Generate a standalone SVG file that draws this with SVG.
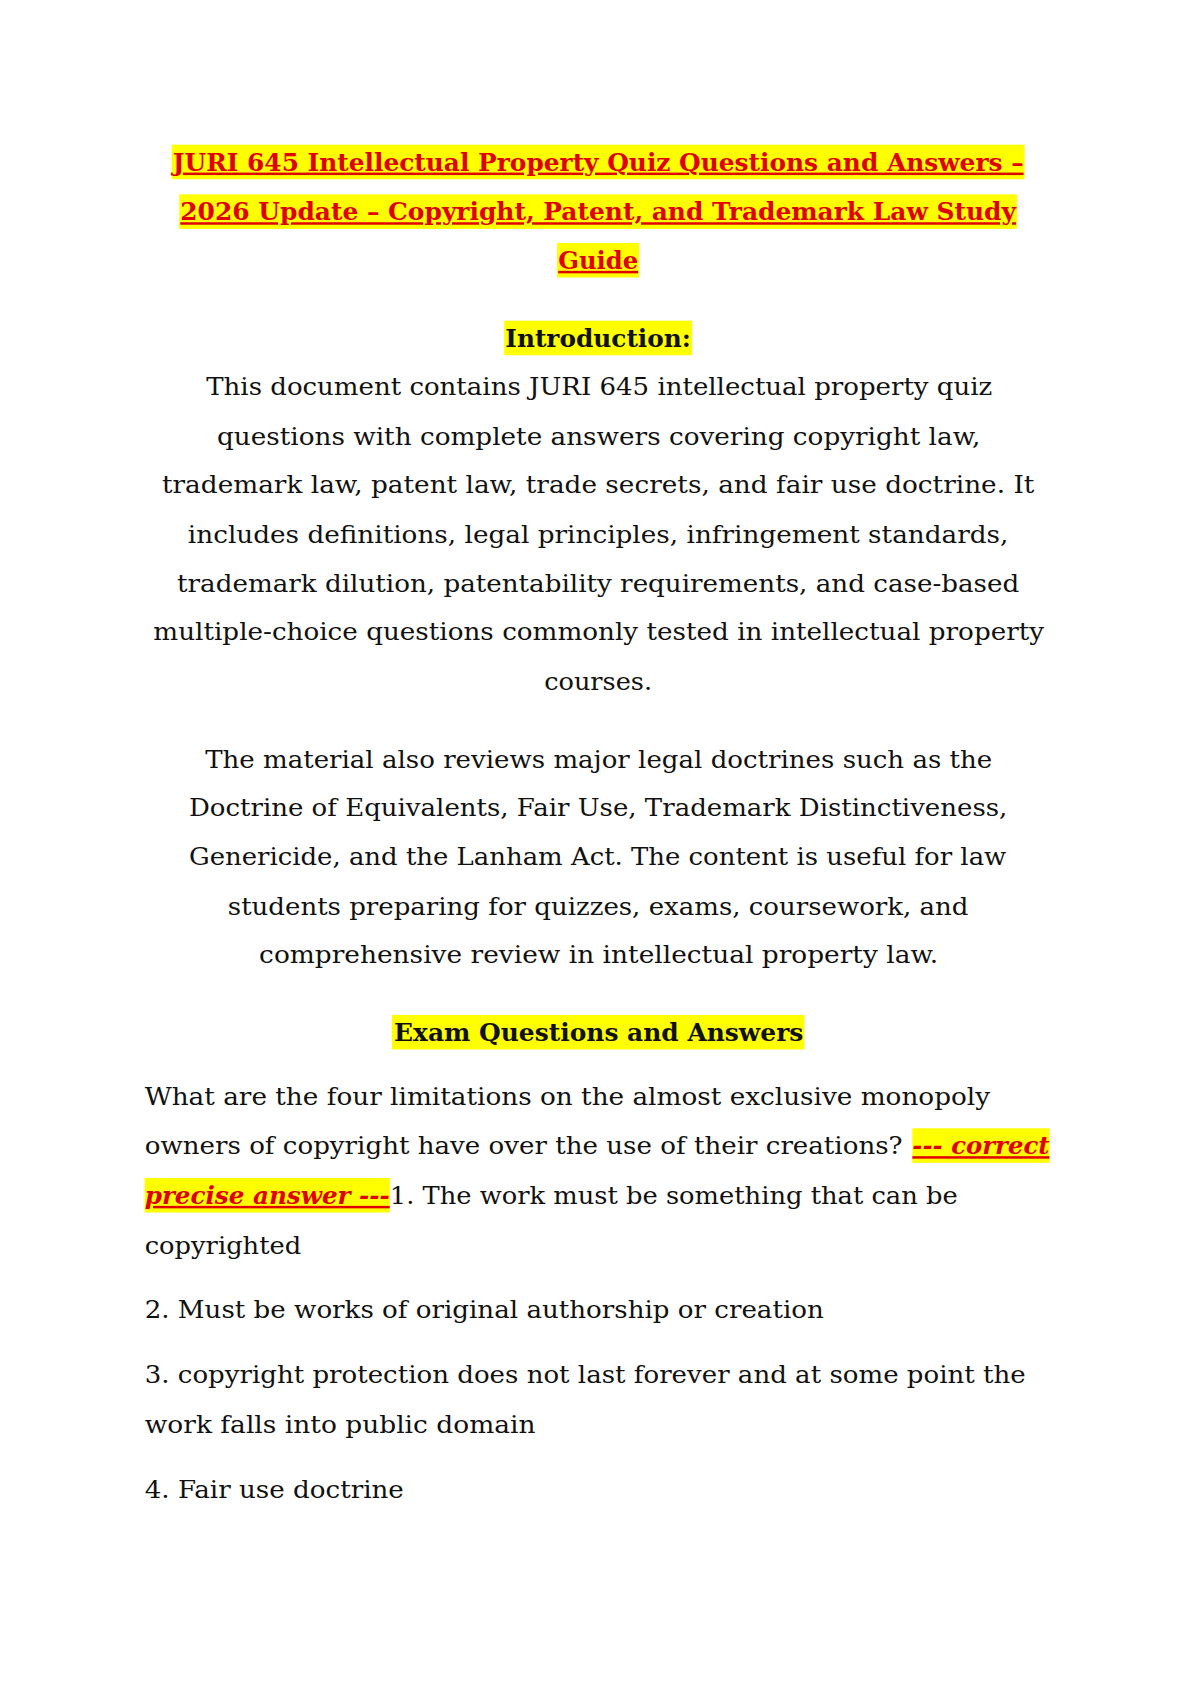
<svg xmlns="http://www.w3.org/2000/svg" width="1191" height="1684" viewBox="0 0 1191 1684">
<style>
text{font-family:"DejaVu Serif","Liberation Serif",serif;font-size:23px;fill:#111}
.t{font-weight:bold;fill:#e00000;text-decoration:underline}
.h{font-weight:bold}
.a{font-weight:bold;font-style:italic;fill:#e00000;text-decoration:underline}
.y{fill:#ffff00}
</style>
<rect width="1191" height="1684" fill="#fff"/>
<g transform="scale(1.0797)">
<g id="highlights">
<rect class="y" x="159" y="134" width="790" height="32"/>
<rect class="y" x="166" y="180" width="776" height="32"/>
<rect class="y" x="516" y="225" width="76" height="32"/>
<rect class="y" x="467" y="297" width="174" height="32"/>
<rect class="y" x="363" y="940" width="382" height="32"/>
<rect class="y" x="845" y="1045" width="127" height="32"/>
<rect class="y" x="134" y="1091" width="227" height="32"/>
</g>
<g id="title">
<text class="t" x="160" y="158" textLength="788" lengthAdjust="spacingAndGlyphs">JURI 645 Intellectual Property Quiz Questions and Answers –</text>
<text class="t" x="167" y="204" textLength="774" lengthAdjust="spacingAndGlyphs">2026 Update – Copyright, Patent, and Trademark Law Study</text>
<text class="t" x="517" y="249" textLength="74" lengthAdjust="spacingAndGlyphs">Guide</text>
</g>
<g id="intro">
<text class="h" x="468" y="321" textLength="172" lengthAdjust="spacingAndGlyphs">Introduction:</text>
<text x="191" y="366" textLength="728" lengthAdjust="spacingAndGlyphs">This document contains JURI 645 intellectual property quiz</text>
<text x="201" y="412" textLength="707" lengthAdjust="spacingAndGlyphs">questions with complete answers covering copyright law,</text>
<text x="150" y="457" textLength="808" lengthAdjust="spacingAndGlyphs">trademark law, patent law, trade secrets, and fair use doctrine. It</text>
<text x="174" y="503" textLength="760" lengthAdjust="spacingAndGlyphs">includes definitions, legal principles, infringement standards,</text>
<text x="164" y="548" textLength="780" lengthAdjust="spacingAndGlyphs">trademark dilution, patentability requirements, and case-based</text>
<text x="142" y="593" textLength="825" lengthAdjust="spacingAndGlyphs">multiple-choice questions commonly tested in intellectual property</text>
<text x="504" y="639" textLength="100" lengthAdjust="spacingAndGlyphs">courses.</text>
<text x="190" y="711" textLength="729" lengthAdjust="spacingAndGlyphs">The material also reviews major legal doctrines such as the</text>
<text x="175" y="756" textLength="758" lengthAdjust="spacingAndGlyphs">Doctrine of Equivalents, Fair Use, Trademark Distinctiveness,</text>
<text x="175" y="801" textLength="757" lengthAdjust="spacingAndGlyphs">Genericide, and the Lanham Act. The content is useful for law</text>
<text x="211" y="847" textLength="686" lengthAdjust="spacingAndGlyphs">students preparing for quizzes, exams, coursework, and</text>
<text x="240" y="892" textLength="629" lengthAdjust="spacingAndGlyphs">comprehensive review in intellectual property law.</text>
</g>
<g id="exam">
<text class="h" x="365" y="964" textLength="379" lengthAdjust="spacingAndGlyphs">Exam Questions and Answers</text>
<text x="134" y="1023" textLength="783" lengthAdjust="spacingAndGlyphs">What are the four limitations on the almost exclusive monopoly</text>
<text x="134" y="1069" textLength="702" lengthAdjust="spacingAndGlyphs">owners of copyright have over the use of their creations?</text>
<text class="a" x="845" y="1069" textLength="127" lengthAdjust="spacingAndGlyphs">--- correct</text>
<text class="a" x="134" y="1115" textLength="227" lengthAdjust="spacingAndGlyphs">precise answer ---</text>
<text x="361" y="1115" textLength="526" lengthAdjust="spacingAndGlyphs">1. The work must be something that can be</text>
<text x="134" y="1161" textLength="145" lengthAdjust="spacingAndGlyphs">copyrighted</text>
<text x="134" y="1221" textLength="629" lengthAdjust="spacingAndGlyphs">2. Must be works of original authorship or creation</text>
<text x="134" y="1281" textLength="816" lengthAdjust="spacingAndGlyphs">3. copyright protection does not last forever and at some point the</text>
<text x="134" y="1327" textLength="362" lengthAdjust="spacingAndGlyphs">work falls into public domain</text>
<text x="134" y="1387" textLength="240" lengthAdjust="spacingAndGlyphs">4. Fair use doctrine</text>
</g>
</g>
</svg>
